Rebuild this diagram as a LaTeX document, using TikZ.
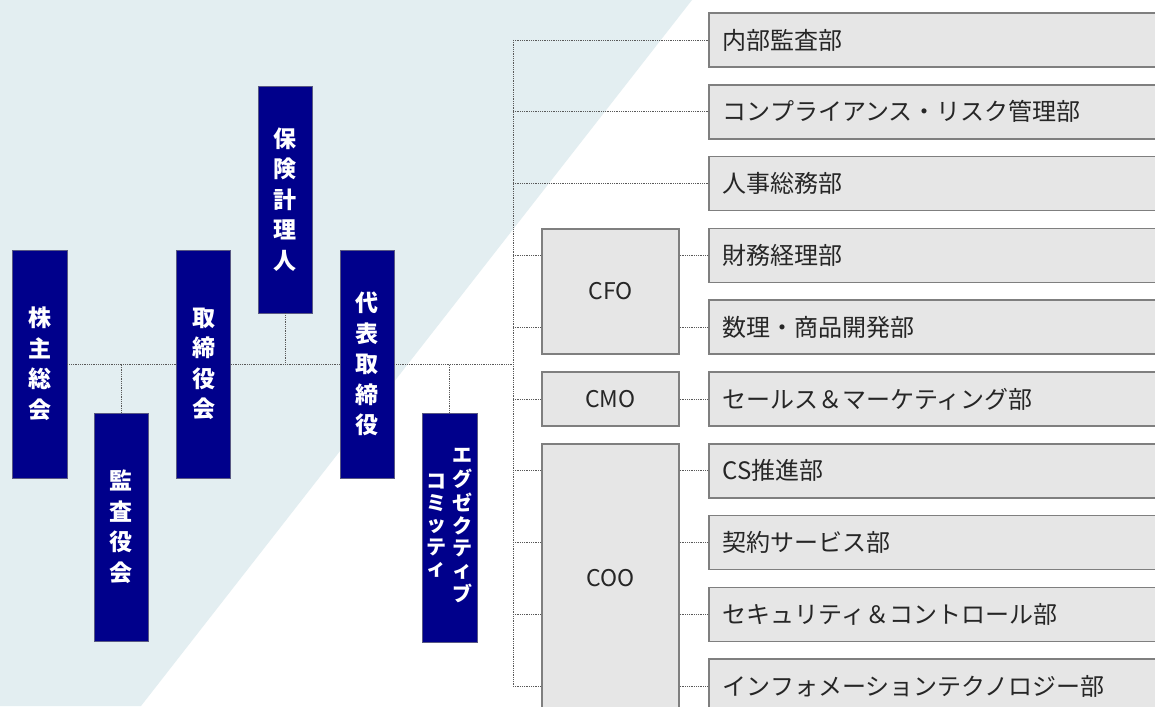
\documentclass[tikz,border=0pt]{standalone}
\usepackage{fontspec}
\setmainfont{Noto Sans CJK JP}
\usetikzlibrary{calc}
\definecolor{bgblue}{HTML}{E3EEF1}
\definecolor{navyblock}{HTML}{00008B}
\definecolor{boxgray}{HTML}{E6E6E6}
\definecolor{edgegray}{HTML}{7F7F7F}
\definecolor{inkgray}{HTML}{262626}
\tikzstyle{organ}=[draw=gray!70!navyblock, line width=0.8pt, fill=navyblock, text=white,
    inner sep=0pt, align=center, font=\fontsize{23}{30.5}\selectfont\bfseries]
\tikzstyle{officer}=[draw=edgegray, line width=1.6pt, fill=boxgray, text=inkgray,
    inner sep=0pt, minimum width=137pt, font=\fontsize{23}{26}\selectfont]
\tikzstyle{dept}=[draw=edgegray, line width=1.6pt, fill=boxgray, text=inkgray, anchor=west,
    minimum height=54pt, inner xsep=14pt, text width=442pt, align=left,
    font=\fontsize{24}{27}\selectfont]
\tikzstyle{link}=[densely dotted, line width=0.8pt, gray!70!black]

\begin{document}
\begin{tikzpicture}[x = 1pt, y = -1pt]
% Frame
    \clip (0,0) rectangle (1155,706);
    \fill[white] (0,0) rectangle (1155,706);
    \fill[bgblue] (0,0) -- (692,0) -- (141,706) -- (0,706) -- cycle;
% Governing bodies
    \node[organ, minimum width=55pt, minimum height=228pt] (kabunushi) at (39.5,364) {株\\主\\総\\会};
    \node[organ, minimum width=54pt, minimum height=228pt] (kansayaku) at (121,527) {監\\査\\役\\会};
    \node[organ, minimum width=54pt, minimum height=228pt] (torishimari) at (203.5,364) {取\\締\\役\\会};
    \node[organ, minimum width=54pt, minimum height=227pt] (hoken) at (285,199.5) {保\\険\\計\\理\\人};
    \node[organ, minimum width=54pt, minimum height=228pt] (daihyo) at (367,364) {代\\表\\取\\締\\役};
    \node[organ, minimum width=55pt, minimum height=229pt,
          font=\fontsize{20}{21.5}\selectfont\bfseries] (exec) at (449.5,527.5)
          {\begin{tabular}[c]{@{}c@{\hspace{6pt}}c@{}}
           \begin{tabular}[c]{@{}c@{}}コ\\ミ\\ッ\\テ\\ィ\end{tabular} &
           \begin{tabular}[c]{@{}c@{}}エ\\グ\\ゼ\\ク\\テ\\ィ\\ブ\end{tabular}
           \end{tabular}};
    \coordinate (trunk) at (513,364);
% Officers
    \node[officer, minimum height=125pt] (cfo) at (610.5,291.5) {CFO};
    \node[officer, minimum height=54pt] (cmo) at (610.5,399) {CMO};
    \node[officer, minimum height=269pt] (coo) at (610.5,578.5) {COO};
% Departments
    \foreach \i/\name in {1/内部監査部, 2/コンプライアンス・リスク管理部, 3/人事総務部,
        4/財務経理部, 5/数理・商品開発部, 6/セールス＆マーケティング部, 7/CS推進部,
        8/契約サービス部, 9/セキュリティ＆コントロール部, 10/インフォメーションテクノロジー部}
        \node[dept] (bu\i) at (708,{40+(\i-1)*71.8}) {\name};
% Lines between bodies
    \draw[link] (kabunushi) -- (torishimari);
    \draw[link] (torishimari) -- (daihyo);
    \draw[link] (daihyo) -- (trunk);
    \draw[link] (kansayaku.north) -- (kansayaku.north |- kabunushi.east);
    \draw[link] (hoken.south) -- (hoken.south |- daihyo.west);
    \draw[link] (exec.north) -- (exec.north |- daihyo.east);
% Trunk to departments
    \draw[link] (bu1.west -| trunk) -- (bu10.west -| trunk);
    \foreach \i in {1,2,3}
        \draw[link] (bu\i.west -| trunk) -- (bu\i.west);
    \foreach \i/\boss in {4/cfo, 5/cfo, 6/cmo, 7/coo, 8/coo, 9/coo, 10/coo} {
        \draw[link] (bu\i.west -| trunk) -- (bu\i.west -| \boss.west);
        \draw[link] (bu\i.west -| \boss.east) -- (bu\i.west);
    }
\end{tikzpicture}
\end{document}
